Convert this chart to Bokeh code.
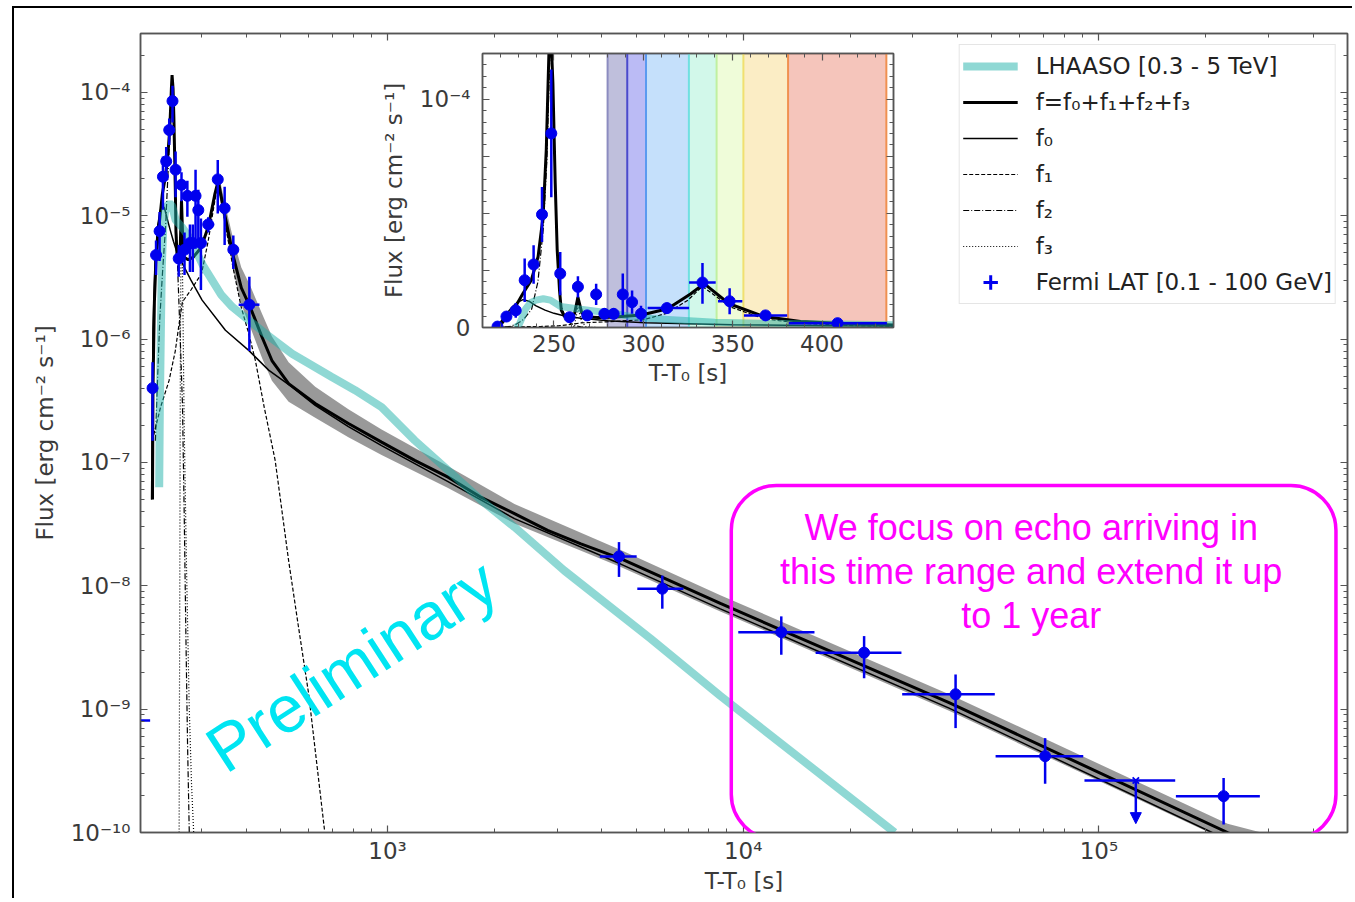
import math
from bokeh.plotting import figure
from bokeh.models import (ColumnDataSource, FixedTicker, LogAxis, LinearAxis, Legend, LegendItem,
                          BoxAnnotation, Span, Arrow, NormalHead, Label, CustomJSTickFormatter)
from bokeh.layouts import column
from bokeh.embed import file_html
from bokeh.resources import INLINE

# ---------------- data ----------------
# Fermi LAT [0.1 - 100 GeV] flux points
fermi_t = [218.4, 223.4, 228.6, 233.6, 238.6, 243.3, 248.5, 253.5, 258.7, 263.4, 268.6, 273.6,
           278.2, 283.4, 288.5, 293.7, 298.7, 313.2, 333.1, 348.3, 368.4, 408.7,
           4474, 5922, 12794, 21870, 39540, 70600, 224200]
fermi_flux = [0.4e-6, 4.8e-6, 7.5e-6, 20.7e-6, 27.6e-6, 49.5e-6, 85.0e-6, 23.6e-6, 4.5e-6, 17.8e-6,
              5.3e-6, 14.5e-6, 6.0e-6, 6.0e-6, 14.5e-6, 11.1e-6, 6.0e-6, 8.5e-6, 19.7e-6, 11.5e-6,
              5.3e-6, 1.9e-6, 1.73e-8, 9.47e-9, 4.21e-9, 2.87e-9, 1.32e-9, 4.16e-10, 1.97e-10]
fermi_flux_lo = [0.15e-6, 3.3e-6, 4.3e-6, 11.2e-6, 19.2e-6, 37.5e-6, 57e-6, 14.1e-6, 3.2e-6, 13.1e-6,
                 3.3e-6, 9.8e-6, 3.5e-6, 3.5e-6, 5.4e-6, 6.0e-6, 2.5e-6, 7.3e-6, 10.4e-6, 5.8e-6,
                 3.7e-6, 0.8e-6, 1.18e-8, 6.52e-9, 2.76e-9, 1.78e-9, 7.02e-10, 2.48e-10, 1.16e-10]
fermi_flux_hi = [0.65e-6, 6.3e-6, 10.7e-6, 30.2e-6, 36.0e-6, 61.5e-6, 113e-6, 33.1e-6, 5.8e-6, 22.5e-6,
                 7.3e-6, 19.2e-6, 8.5e-6, 8.5e-6, 23.6e-6, 16.2e-6, 9.5e-6, 9.7e-6, 28.3e-6, 17.2e-6,
                 6.9e-6, 3.2e-6, 2.26e-8, 1.21e-8, 5.65e-9, 3.91e-9, 1.91e-9, 5.82e-10, 2.76e-10]
fermi_t_lo = [218.4, 223.4, 228.6, 233.6, 238.6, 243.3, 248.5, 253.5, 258.7, 263.4, 268.6, 273.6,
              278.2, 283.4, 288.5, 293.7, 298.7, 302.4, 325.6, 341.8, 356.3, 381.4,
              3951, 5037, 9683, 15980, 27980, 51230, 164600]
fermi_t_hi = [218.4, 223.4, 228.6, 233.6, 238.6, 243.3, 248.5, 253.5, 258.7, 263.4, 268.6, 273.6,
              278.2, 283.4, 288.5, 293.7, 298.7, 325.6, 340.5, 355.4, 380.5, 436.3,
              5016, 6790, 15860, 27850, 50970, 90360, 283500]

# Fermi upper limit
ul_t = [127000]
ul_flux = [2.64e-10]
ul_t_lo = [91080]
ul_t_hi = [163900]
ul_arrow_to = [1.18e-10]

# early bin whose x-bar enters the plot at the left edge
edge_t_lo = [100]
edge_t_hi = [215]
edge_flux = [8.1e-10]

# LHAASO [0.3 - 5 TeV] light curve
lhaaso_t = [228.0, 229.0, 230.5, 232.0, 234.0, 237.0, 240.0, 244.0, 248.0, 253.7, 265.0, 284.0,
            295.0, 302.0, 340.0, 366.0, 453.0, 539.0, 697.0, 810.0, 962.0, 1192.0, 1479.0,
            1834.0, 2274.0, 3138.0, 5490.0, 8623.0, 26660.0]
lhaaso_flux = [6.3e-8, 3e-7, 1.2e-6, 4e-6, 8e-6, 1.1e-5, 1.2e-5, 1.26e-5, 1.2e-5, 9.2e-6, 8.0e-6, 6.0e-6,
               4.6e-6, 4.0e-6, 2.3e-6, 1.82e-6, 1.11e-6, 7.6e-7, 4.93e-7, 3.85e-7, 2.81e-7, 1.51e-7,
               8.63e-8, 4.93e-8, 2.99e-8, 1.33e-8, 3.73e-9, 1.28e-9, 1.0e-10]

# total model f = f0+f1+f2+f3
f_t = [218.3, 219.0, 221.0, 223.4, 228.0, 232.7, 237.3, 241.1, 243.9, 245.7, 246.7, 247.8, 249.4,
       250.7, 251.8, 253.1, 254.1, 255.9, 259.0, 261.5, 263.4, 265.5, 268.0, 275.0, 284.0, 299.0,
       313.6, 326.6, 334.0, 348.0, 367.6, 388.0, 411.5, 443.6, 473.0, 527.0, 626.0, 776.0, 962.0,
       1192.0, 1479.0, 1834.0, 2274.0, 2819.0, 3496.0, 4524.0, 8623.0, 37900.0, 230000.0, 300000.0]
f_flux = [5e-8, 4e-7, 2e-6, 4.5e-6, 8.5e-6, 1.5e-5, 2.07e-5, 3.1e-5, 4.86e-5, 7.8e-5, 1.07e-4, 1.38e-4,
          1.07e-4, 6.3e-5, 3.4e-5, 1.63e-5, 7.5e-6, 4.8e-6, 4.6e-6, 6.0e-6, 1.33e-5, 6.5e-6, 4.6e-6,
          4.4e-6, 4.6e-6, 5.5e-6, 8.2e-6, 1.48e-5, 1.92e-5, 1.04e-5, 4.8e-6, 2.6e-6, 1.8e-6, 1.04e-6,
          6.7e-7, 4.35e-7, 3.0e-7, 2.07e-7, 1.46e-7, 1.04e-7, 7.6e-8, 5.2e-8, 3.85e-8, 2.81e-8,
          2.19e-8, 1.66e-8, 7.19e-9, 1.13e-9, 1.0e-10, 7e-11]

# uncertainty band of f
band_t = [334, 348, 368, 388, 411, 444, 473, 527, 626, 776, 962, 1479, 2274, 4524, 8623, 37900,
          230000, 286000]
band_lo = [1.6e-5, 8.5e-6, 3.7e-6, 1.9e-6, 1.25e-6, 7e-7, 4.6e-7, 3.1e-7, 2.3e-7, 1.6e-7, 1.15e-7,
           6.2e-8, 3.2e-8, 1.42e-8, 6.2e-9, 9.7e-10, 8.5e-11, 6.3e-11]
band_hi = [2.3e-5, 1.3e-5, 6.5e-6, 3.8e-6, 2.7e-6, 1.6e-6, 1.05e-6, 6.5e-7, 4.1e-7, 2.7e-7, 1.85e-7,
           9.3e-8, 4.6e-8, 1.95e-8, 8.4e-9, 1.32e-9, 1.18e-10, 1e-10]

# components
f0_t = [217.0, 219.0, 222.0, 226.0, 229.5, 232.7, 236.0, 240.0, 245.0, 250.0, 256.0, 265.0, 280.0,
        301.0, 350.0, 407.0, 463.0, 538.0, 626.0, 776.0, 962.0, 1479.0, 2274.0, 4524.0, 8623.0,
        37900.0, 208000.0, 300000.0]
f0_flux = [5e-8, 1.2e-6, 4.5e-6, 8.5e-6, 1.1e-5, 1.22e-5, 1.15e-5, 9.5e-6, 7.6e-6, 6.2e-6, 5.0e-6,
           4.1e-6, 3.0e-6, 2.07e-6, 1.18e-6, 8.1e-7, 5.6e-7, 4.1e-7, 2.9e-7, 1.95e-7, 1.37e-7, 7.0e-8,
           3.5e-8, 1.5e-8, 6.5e-9, 1.02e-9, 1.0e-10, 6e-11]
f1_t = [218.0, 230.0, 243.0, 253.0, 260.0, 265.0, 280.0, 300.0, 313.0, 325.0, 333.0, 340.0, 349.0,
        367.6, 388.0, 407.0, 425.0, 450.0, 483.0, 505.0, 527.0, 562.0, 600.0, 665.0]
f1_flux = [1.5e-7, 2.8e-7, 4.6e-7, 8e-7, 1.4e-6, 2.0e-6, 2.5e-6, 3.4e-6, 6.2e-6, 1.2e-5, 1.8e-5, 1.4e-5,
           8.9e-6, 3.8e-6, 1.8e-6, 1.11e-6, 6.7e-7, 2.8e-7, 1.04e-7, 4e-8, 1.6e-8, 4.6e-9, 1.33e-9,
           1.04e-10]
f2_t = [222.5, 225.5, 229.0, 233.0, 237.5, 241.0, 244.0, 246.0, 247.5, 248.3, 249.5, 251.0, 252.5,
        254.0, 256.0, 259.0, 262.0, 265.0, 268.0, 271.0, 274.0, 277.0]
f2_flux = [1.5e-7, 4.6e-7, 1.5e-6, 3.5e-6, 8e-6, 2.0e-5, 4.3e-5, 7.3e-5, 1.15e-4, 1.3e-4, 1.0e-4, 5.5e-5,
           2.2e-5, 1.0e-5, 5e-6, 2e-6, 8e-7, 3e-7, 4e-8, 4e-9, 5e-10, 1e-10]
f3_t = [259.4, 260.5, 261.5, 262.5, 263.4, 264.3, 265.5, 268.0, 272.0, 277.0, 281.0, 285.0]
f3_flux = [1e-10, 1e-8, 8e-7, 5e-6, 9e-6, 6e-6, 2.5e-6, 2e-7, 1.5e-8, 1e-9, 2.5e-10, 1e-10]

# inset time bins (coloured spans)
span_edges = [280.0, 291.0, 301.5, 325.5, 341.0, 356.0, 381.0, 436.0]
span_fill = ["#1a1a80", "#3030e0", "#3090f0", "#30e0a0", "#b0f040", "#f0c030", "#e05030"]
span_alpha = [0.28, 0.33, 0.28, 0.22, 0.2, 0.28, 0.33]
span_edge_colors = ["#8c8cc0", "#4a4acc", "#5a9af0", "#70e0e0", "#c0f0a0", "#f0e070", "#f09050", "#f09050"]

# tick labels
main_x_ticks = [1e3, 1e4, 1e5]
main_x_labels = ["10³", "10⁴", "10⁵"]
main_y_ticks = [1e-10, 1e-9, 1e-8, 1e-7, 1e-6, 1e-5, 1e-4]
main_y_labels = ["10⁻¹⁰", "10⁻⁹", "10⁻⁸", "10⁻⁷", "10⁻⁶", "10⁻⁵", "10⁻⁴"]
inset_x_ticks = [250, 300, 350, 400]
inset_x_labels = ["250", "300", "350", "400"]
inset_y_ticks = [0, 2.5e-5, 5e-5, 7.5e-5, 1e-4]
inset_y_labels = ["0", "", "", "", "10⁻⁴"]

note_lines = ["We focus on echo arriving in", "this time range and extend it up", "to 1 year"]

# legend-only proxy position (outside both axis ranges, never visible in the plot)
legend_proxy_x = [10.0]
legend_proxy_y = [1.0]

# ---------------- styling ----------------
FONT = "DejaVu Sans"
AX = "#555555"
LBL = "#3a3a3a"
BLUE = "#0000ee"
TEAL = "#20b2aa"
MAGENTA = "#ff00ff"

log_minor_x = [k * 10.0 ** e for e in range(2, 6) for k in range(2, 10)]
log_minor_y = [k * 10.0 ** e for e in range(-11, -3) for k in range(2, 10)]


def fmt(tvals, tlabels, log):
    code = """
    for (let i = 0; i < tvals.length; i++) {
        const a = LOG ? Math.log10(tick) : tick;
        const b = LOG ? Math.log10(tvals[i]) : tvals[i];
        if (Math.abs(a - b) < TOL) { return tlabels[i]; }
    }
    return "";
    """.replace("LOG", "true" if log else "false").replace("TOL", "1e-6" if log else "1e-9")
    return CustomJSTickFormatter(args=dict(tvals=tvals, tlabels=tlabels), code=code)


def blank():
    return CustomJSTickFormatter(code="return '';")


def style_axis(ax):
    ax.axis_line_color = AX
    ax.axis_line_width = 1.5
    ax.major_tick_line_color = AX
    ax.minor_tick_line_color = AX
    ax.major_tick_line_width = 1.2
    ax.minor_tick_line_width = 1.0
    ax.major_tick_in = 7
    ax.major_tick_out = 0
    ax.minor_tick_in = 4
    ax.minor_tick_out = 0
    ax.major_label_text_font = FONT
    ax.major_label_text_font_size = "23px"
    ax.major_label_text_color = LBL
    ax.axis_label_text_font = FONT
    ax.axis_label_text_font_size = "23px"
    ax.axis_label_text_color = LBL
    ax.axis_label_text_font_style = "normal"


# ---------------- main figure ----------------
p = figure(width=1352, height=898, x_axis_type="log", y_axis_type="log",
           x_range=(202, 5.0e5), y_range=(1e-10, 3.0e-4),
           output_backend="svg", toolbar_location=None,
           min_border_left=138, min_border_right=2, min_border_top=33, min_border_bottom=66)
p.border_fill_color = None
p.background_fill_color = "white"
p.outline_line_color = AX
p.outline_line_width = 1.5
p.xgrid.visible = False
p.ygrid.visible = False
# thin black page frame (left and top edges)
p.styles = {"background": "linear-gradient(#000, #000) 12px 6px / 2px 900px no-repeat, "
                          "linear-gradient(#000, #000) 12px 6px / 1360px 2px no-repeat"}

xt = FixedTicker(ticks=main_x_ticks, minor_ticks=log_minor_x)
yt = FixedTicker(ticks=main_y_ticks, minor_ticks=log_minor_y)
p.xaxis.ticker = xt
p.yaxis.ticker = yt
p.xaxis.formatter = fmt(main_x_ticks, main_x_labels, True)
p.yaxis.formatter = fmt(main_y_ticks, main_y_labels, True)
p.xaxis.axis_label = "T-T₀ [s]"
p.yaxis.axis_label = "Flux [erg cm⁻² s⁻¹]"
for ax in p.xaxis + p.yaxis:
    style_axis(ax)
p.xaxis.major_label_standoff = 5
p.xaxis.axis_label_standoff = 1
p.yaxis.major_label_standoff = 10
p.yaxis.axis_label_standoff = 10
top_ax = LogAxis(ticker=xt, formatter=blank(), major_label_standoff=0)
right_ax = LogAxis(ticker=yt, formatter=blank(), major_label_standoff=0)
style_axis(top_ax)
style_axis(right_ax)
p.add_layout(top_ax, "above")
p.add_layout(right_ax, "right")

fermi_src = ColumnDataSource(dict(t=fermi_t, f=fermi_flux, flo=fermi_flux_lo, fhi=fermi_flux_hi,
                                  tlo=fermi_t_lo, thi=fermi_t_hi))

p.varea(x=band_t, y1=band_lo, y2=band_hi, fill_color="#808080", fill_alpha=0.8)
r_f3 = p.line(f3_t, f3_flux, line_color="black", line_width=1.2, line_dash="1 2")
r_f2 = p.line(f2_t, f2_flux, line_color="black", line_width=1.2, line_dash="6 2 1 2")
r_f1 = p.line(f1_t, f1_flux, line_color="black", line_width=1.2, line_dash="4 2")
r_f0 = p.line(f0_t, f0_flux, line_color="black", line_width=1.5)
r_f = p.line(f_t, f_flux, line_color="black", line_width=3)
r_lh = p.line(lhaaso_t, lhaaso_flux, line_color=TEAL, line_alpha=0.5, line_width=8)

p.segment(x0="tlo", y0="f", x1="thi", y1="f", source=fermi_src, line_color=BLUE, line_width=2.5)
p.segment(x0="t", y0="flo", x1="t", y1="fhi", source=fermi_src, line_color=BLUE, line_width=2.5)
p.scatter("t", "f", source=fermi_src, marker="circle", size=11, fill_color=BLUE, line_color=BLUE)

p.segment(x0=ul_t_lo, y0=ul_flux, x1=ul_t_hi, y1=ul_flux, line_color=BLUE, line_width=2.5)
p.scatter(ul_t, ul_flux, marker="x", size=9, line_color=BLUE, line_width=1.8)
for t0, f_a, f_b in zip(ul_t, ul_flux, ul_arrow_to):
    p.add_layout(Arrow(end=NormalHead(size=11, fill_color=BLUE, line_color=BLUE),
                       x_start=t0, y_start=f_a, x_end=t0, y_end=f_b,
                       line_color=BLUE, line_width=2.5))
p.segment(x0=edge_t_lo, y0=edge_flux, x1=edge_t_hi, y1=edge_flux, line_color=BLUE, line_width=2.5)

# legend proxies for the Fermi symbol (point lies outside the plotted ranges)
r_leg_cross = p.scatter(legend_proxy_x, legend_proxy_y, marker="cross", size=20,
                        line_color=BLUE, line_width=3)
r_leg_dot = p.scatter(legend_proxy_x, legend_proxy_y, marker="dot", size=20,
                      line_color=BLUE, fill_color=BLUE, line_width=3)

legend = Legend(items=[
    LegendItem(label="LHAASO [0.3 - 5 TeV]", renderers=[r_lh]),
    LegendItem(label="f=f₀+f₁+f₂+f₃", renderers=[r_f]),
    LegendItem(label="f₀", renderers=[r_f0]),
    LegendItem(label="f₁", renderers=[r_f1]),
    LegendItem(label="f₂", renderers=[r_f2]),
    LegendItem(label="f₃", renderers=[r_f3]),
    LegendItem(label="Fermi LAT [0.1 - 100 GeV]", renderers=[r_leg_cross, r_leg_dot]),
], location="top_right", margin=11, padding=3, spacing=0,
    glyph_width=55, glyph_height=36, label_height=36, label_standoff=18,
    label_text_font=FONT, label_text_font_size="23px", label_text_color="#222222",
    border_line_color="#cccccc", border_line_width=1.2, background_fill_alpha=0.9)
p.add_layout(legend)

# highlighted region and notes
p.add_layout(BoxAnnotation(left=9256, right=4.64e5, bottom=8.8e-11, top=6.5e-8,
                           fill_alpha=0, line_color=MAGENTA, line_alpha=1.0, line_width=3.5,
                           border_radius=45))
note_t = 64500
note_y = [2.98e-8, 1.31e-8, 5.75e-9]
for txt, yy in zip(note_lines, note_y):
    p.add_layout(Label(x=note_t, y=yy, text=txt, text_align="center", text_baseline="middle",
                       text_font="Liberation Sans", text_font_size="36px", text_color=MAGENTA))
p.add_layout(Label(x=793, y=2.26e-9, text="Preliminary", angle=33, angle_units="deg",
                   text_align="center", text_baseline="middle", text_font="Liberation Sans",
                   text_font_size="66px", text_color="#00e5f2"))

# ---------------- inset ----------------
p2 = figure(width=556, height=349, x_range=(210, 440), y_range=(0, 1.2e-4),
            output_backend="svg", toolbar_location=None,
            min_border_left=140, min_border_right=5, min_border_top=5, min_border_bottom=70)
p2.border_fill_color = None
p2.background_fill_color = "white"
p2.outline_line_color = AX
p2.outline_line_width = 1.5
p2.xgrid.visible = False
p2.ygrid.visible = False
ixt = FixedTicker(ticks=inset_x_ticks, minor_ticks=list(range(210, 441, 10)))
iyt = FixedTicker(ticks=inset_y_ticks, minor_ticks=[k * 5e-6 for k in range(0, 25)])
p2.xaxis.ticker = ixt
p2.yaxis.ticker = iyt
p2.xaxis.formatter = fmt(inset_x_ticks, inset_x_labels, False)
p2.yaxis.formatter = fmt(inset_y_ticks, inset_y_labels, False)
p2.xaxis.axis_label = "T-T₀ [s]"
p2.yaxis.axis_label = "Flux [erg cm⁻² s⁻¹]"
for ax in p2.xaxis + p2.yaxis:
    style_axis(ax)
p2.xaxis.major_label_standoff = 7
p2.xaxis.axis_label_standoff = 5
p2.yaxis.major_label_standoff = 12
p2.yaxis.axis_label_standoff = 10
itop = LinearAxis(ticker=ixt, formatter=blank(), major_label_standoff=0)
iright = LinearAxis(ticker=iyt, formatter=blank(), major_label_standoff=0)
style_axis(itop)
style_axis(iright)
p2.add_layout(itop, "above")
p2.add_layout(iright, "right")

for i in range(len(span_fill)):
    p2.add_layout(BoxAnnotation(left=span_edges[i], right=span_edges[i + 1], fill_color=span_fill[i],
                                fill_alpha=span_alpha[i], line_alpha=0, level="underlay"))
for e, c in zip(span_edges, span_edge_colors):
    p2.add_layout(Span(location=e, dimension="height", line_color=c, line_width=2, level="underlay"))

p2.line(f3_t, f3_flux, line_color="black", line_width=1.2, line_dash="1 2")
p2.line(f2_t, f2_flux, line_color="black", line_width=1.2, line_dash="6 2 1 2")
p2.line(f1_t, f1_flux, line_color="black", line_width=1.2, line_dash="4 2")
p2.line(f0_t, f0_flux, line_color="black", line_width=1.5)
p2.line(f_t, f_flux, line_color="black", line_width=3)
p2.line(lhaaso_t, lhaaso_flux, line_color=TEAL, line_alpha=0.5, line_width=7)
p2.segment(x0="tlo", y0="f", x1="thi", y1="f", source=fermi_src, line_color=BLUE, line_width=2.5)
p2.segment(x0="t", y0="flo", x1="t", y1="fhi", source=fermi_src, line_color=BLUE, line_width=2.5)
p2.scatter("t", "f", source=fermi_src, marker="circle", size=11, fill_color=BLUE, line_color=BLUE)

p2.styles = {"position": "absolute", "left": "342px", "top": "48px"}

root = column(p, p2)
root.styles = {"position": "relative"}

open("out.html", "w").write(file_html(root, INLINE))
